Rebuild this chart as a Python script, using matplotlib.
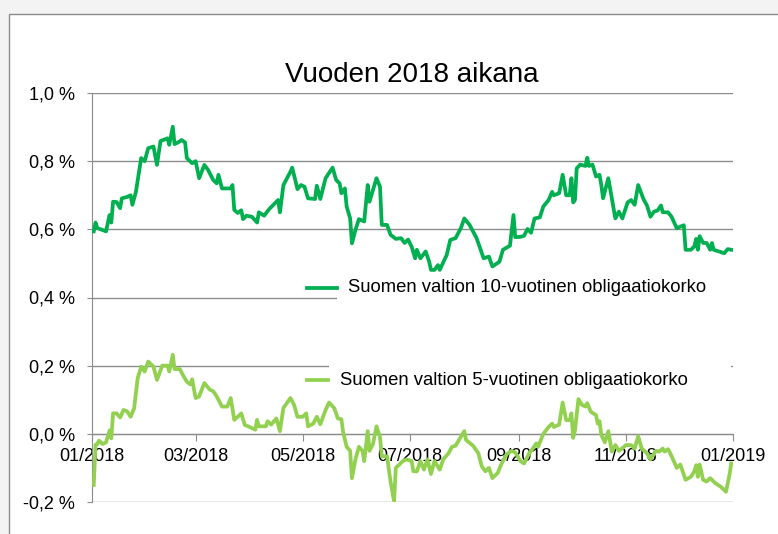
import pandas as pd
import matplotlib
matplotlib.use("Agg")
import matplotlib.pyplot as plt
import matplotlib.dates as mdates
import matplotlib.transforms as mtrans
from matplotlib.patches import Rectangle

plt.rcParams['font.family'] = ['Liberation Sans', 'DejaVu Sans']

title = "Vuoden 2018 aikana"
label_10y = "Suomen valtion 10-vuotinen obligaatiokorko"
label_5y = "Suomen valtion 5-vuotinen obligaatiokorko"
start = pd.Timestamp("2018-01-01")
end = pd.Timestamp("2019-01-01")

# days since 1.1.2018
days_10y = [1, 2, 3, 5, 8, 10, 11, 12, 14, 16,
            17, 20, 22, 23, 25, 28, 30, 32, 35, 37,
            39, 43, 44, 46, 47, 49, 51, 53, 54, 57,
            59, 61, 64, 66, 69, 71, 72, 74, 79, 80,
            81, 83, 85, 86, 88, 91, 94, 95, 98, 101,
            106, 107, 109, 113, 114, 117, 119, 121, 123, 127,
            128, 130, 133, 137, 139, 141, 142, 144, 145, 147,
            148, 150, 152, 155, 157, 158, 162, 164, 165, 168,
            170, 173, 176, 178, 180, 182, 184, 185, 187, 190,
            192, 193, 195, 197, 198, 202, 204, 207, 210, 212,
            215, 219, 223, 226, 228, 232, 234, 238, 240, 241,
            244, 246, 248, 250, 252, 255, 257, 260, 262, 263,
            266, 268, 270, 272, 273, 274, 275, 276, 278, 281,
            282, 283, 285, 287, 289, 290, 291, 294, 296, 298,
            300, 302, 305, 307, 309, 311, 314, 316, 318, 320,
            322, 324, 325, 328, 330, 333, 335, 337, 338, 341,
            343, 344, 345, 346, 348, 350, 352, 353, 354, 357,
            360, 362, 364]
rate_10y = [0.594, 0.62, 0.604, 0.60, 0.594, 0.642, 0.62, 0.681, 0.68, 0.662,
            0.691, 0.695, 0.70, 0.672, 0.71, 0.809, 0.80, 0.838, 0.843, 0.789,
            0.859, 0.867, 0.848, 0.901, 0.85, 0.855, 0.862, 0.855, 0.809, 0.794,
            0.80, 0.75, 0.789, 0.775, 0.745, 0.735, 0.76, 0.72, 0.72, 0.73,
            0.657, 0.648, 0.656, 0.63, 0.64, 0.637, 0.62, 0.65, 0.64, 0.66,
            0.686, 0.65, 0.73, 0.769, 0.781, 0.718, 0.73, 0.725, 0.691, 0.689,
            0.728, 0.689, 0.75, 0.781, 0.745, 0.735, 0.706, 0.72, 0.667, 0.632,
            0.559, 0.598, 0.63, 0.623, 0.73, 0.681, 0.75, 0.725, 0.613, 0.613,
            0.584, 0.572, 0.574, 0.56, 0.57, 0.549, 0.515, 0.54, 0.515, 0.535,
            0.505, 0.481, 0.481, 0.495, 0.481, 0.525, 0.569, 0.574, 0.603, 0.632,
            0.613, 0.574, 0.515, 0.52, 0.491, 0.505, 0.54, 0.552, 0.642, 0.577,
            0.578, 0.581, 0.601, 0.59, 0.632, 0.635, 0.667, 0.686, 0.71, 0.70,
            0.706, 0.76, 0.70, 0.70, 0.75, 0.679, 0.686, 0.779, 0.79, 0.786,
            0.81, 0.786, 0.79, 0.755, 0.76, 0.73, 0.691, 0.75, 0.691, 0.632,
            0.652, 0.632, 0.679, 0.686, 0.672, 0.73, 0.689, 0.67, 0.637, 0.652,
            0.655, 0.67, 0.65, 0.65, 0.637, 0.603, 0.608, 0.612, 0.54, 0.54,
            0.55, 0.572, 0.54, 0.58, 0.56, 0.56, 0.54, 0.56, 0.54, 0.535,
            0.53, 0.542, 0.54]

days_5y = [1, 2, 3, 4, 6, 8, 10, 11, 12, 14,
           16, 18, 20, 22, 24, 26, 28, 30, 32, 35,
           37, 40, 43, 44, 46, 47, 50, 52, 54, 56,
           57, 59, 61, 64, 67, 69, 71, 74, 77, 79,
           81, 83, 85, 87, 89, 93, 94, 95, 99, 100,
           102, 105, 107, 109, 113, 115, 117, 120, 122, 123,
           126, 128, 130, 133, 135, 138, 140, 142, 143, 145,
           147, 148, 150, 152, 154, 155, 157, 158, 160, 162,
           164, 165, 168, 170, 172, 173, 174, 177, 179, 182,
           183, 185, 187, 189, 191, 193, 195, 198, 200, 203,
           205, 207, 209, 212, 213, 217, 220, 222, 224, 226,
           228, 231, 233, 236, 239, 241, 244, 246, 249, 251,
           253, 254, 257, 260, 262, 263, 266, 268, 270, 272,
           273, 274, 275, 277, 279, 281, 282, 284, 287, 288,
           289, 290, 292, 294, 296, 298, 300, 303, 304, 307,
           309, 311, 313, 316, 318, 321, 323, 325, 326, 328,
           330, 333, 335, 338, 341, 343, 344, 345, 346, 348,
           350, 352, 355, 358, 361, 363, 364]
rate_5y = [-0.15, -0.032, -0.03, -0.02, -0.03, -0.025, 0.01, -0.013, 0.06, 0.06,
           0.048, 0.07, 0.066, 0.05, 0.075, 0.163, 0.197, 0.183, 0.212, 0.197,
           0.158, 0.20, 0.20, 0.183, 0.232, 0.19, 0.19, 0.17, 0.153, 0.145,
           0.16, 0.105, 0.11, 0.149, 0.13, 0.125, 0.11, 0.08, 0.08, 0.105,
           0.041, 0.05, 0.06, 0.026, 0.022, 0.012, 0.041, 0.022, 0.022, 0.037,
           0.027, 0.045, 0.008, 0.076, 0.105, 0.086, 0.05, 0.05, 0.06, 0.022,
           0.03, 0.05, 0.028, 0.07, 0.092, 0.075, 0.045, 0.043, 0.005, -0.038,
           -0.05, -0.13, -0.075, -0.038, -0.05, -0.08, 0.008, -0.05, -0.03, 0.022,
           -0.01, -0.066, -0.066, -0.14, -0.198, -0.10, -0.095, -0.08, -0.075, -0.08,
           -0.11, -0.11, -0.08, -0.105, -0.075, -0.118, -0.08, -0.105, -0.075, -0.057,
           -0.038, -0.035, -0.018, 0.008, -0.018, -0.035, -0.057, -0.096, -0.11, -0.10,
           -0.13, -0.115, -0.09, -0.06, -0.05, -0.055, -0.08, -0.087, -0.057, -0.043,
           -0.028, -0.038, 0.0, 0.02, 0.03, 0.02, 0.027, 0.092, 0.04, 0.04,
           0.06, -0.012, 0.01, 0.102, 0.085, 0.08, 0.09, 0.065, 0.055, 0.03,
           0.037, -0.003, -0.025, 0.008, -0.052, -0.033, -0.05, -0.038, -0.033, -0.033,
           -0.043, -0.007, -0.043, -0.057, -0.075, -0.05, -0.052, -0.043, -0.052, -0.045,
           -0.065, -0.10, -0.09, -0.135, -0.126, -0.11, -0.092, -0.126, -0.09, -0.135,
           -0.14, -0.13, -0.145, -0.155, -0.17, -0.12, -0.087]

yticks = [-0.2, 0.0, 0.2, 0.4, 0.6, 0.8, 1.0]

dark = "#00b050"
light = "#92d050"
grey = "#8c8c8c"

W, H = 778, 534
fig = plt.figure(figsize=(W / 100, H / 100), dpi=100, facecolor="#f3f3f3")
# white chart area with a thin grey frame
fig.patches.append(Rectangle((9 / W, -0.01), 1.1, 1 - 14 / H + 0.01,
                             transform=fig.transFigure, facecolor="white",
                             edgecolor="#8a8a8a", lw=1, zorder=-1))

ax = fig.add_axes([92 / W, 1 - 502 / H, 641 / W, 409 / H])
ax.patch.set_alpha(0)

x10 = start + pd.to_timedelta(days_10y, unit="D")
x5 = start + pd.to_timedelta(days_5y, unit="D")
ax.plot(x10, rate_10y, color=dark, lw=2.7, zorder=3)
ax.plot(x5, rate_5y, color=light, lw=2.7, zorder=3)

ax.set_xlim(start, end)
ax.set_ylim(-0.2, 1.0)
ax.set_yticks(yticks)
ax.set_yticklabels([f"{v:.1f}".replace(".", ",") + " %" for v in yticks])
ax.xaxis.set_major_locator(mdates.MonthLocator(bymonth=[1, 3, 5, 7, 9, 11]))
ax.xaxis.set_major_formatter(mdates.DateFormatter("%m/%Y"))

ax.set_axisbelow(True)
ax.yaxis.grid(True, color=grey, lw=1)
for s in ["top", "right"]:
    ax.spines[s].set_visible(False)
ax.spines["left"].set_color(grey)
ax.spines["bottom"].set_color(grey)
ax.spines["bottom"].set_position(("data", 0))
ax.tick_params(axis="x", direction="out", length=5, color=grey, pad=5,
               labelsize=13, labelcolor="black")
ax.tick_params(axis="y", direction="out", length=3.5, color=grey, pad=9,
               labelsize=13, labelcolor="black")

# legend entries, Excel style: white boxes hiding the gridlines
bt = mtrans.blended_transform_factory(ax.transAxes, ax.transData)
ax.add_patch(Rectangle((245 / 641, 0.393), 397 / 641, 0.064, transform=bt,
                       facecolor="white", edgecolor="none", zorder=1))
ax.add_patch(Rectangle((237 / 641, 0.114), 402 / 641, 0.126, transform=bt,
                       facecolor="white", edgecolor="none", zorder=1))
ax.plot([215 / 641, 245 / 641], [0.428, 0.428], color=dark, lw=2.7,
        transform=bt, zorder=2)
ax.text(256 / 641, 0.428, label_10y, transform=bt, fontsize=13.3,
        va="center", ha="left", zorder=2)
ax.plot([215 / 641, 236 / 641], [0.157, 0.157], color=light, lw=2.7,
        transform=bt, zorder=2)
ax.text(248 / 641, 0.157, label_5y, transform=bt, fontsize=13.3,
        va="center", ha="left", zorder=2)

fig.text(412 / W, 1 - 75 / H, title, fontsize=20, ha="center", va="center")

fig.savefig("out.png", dpi=100, facecolor=fig.get_facecolor())
